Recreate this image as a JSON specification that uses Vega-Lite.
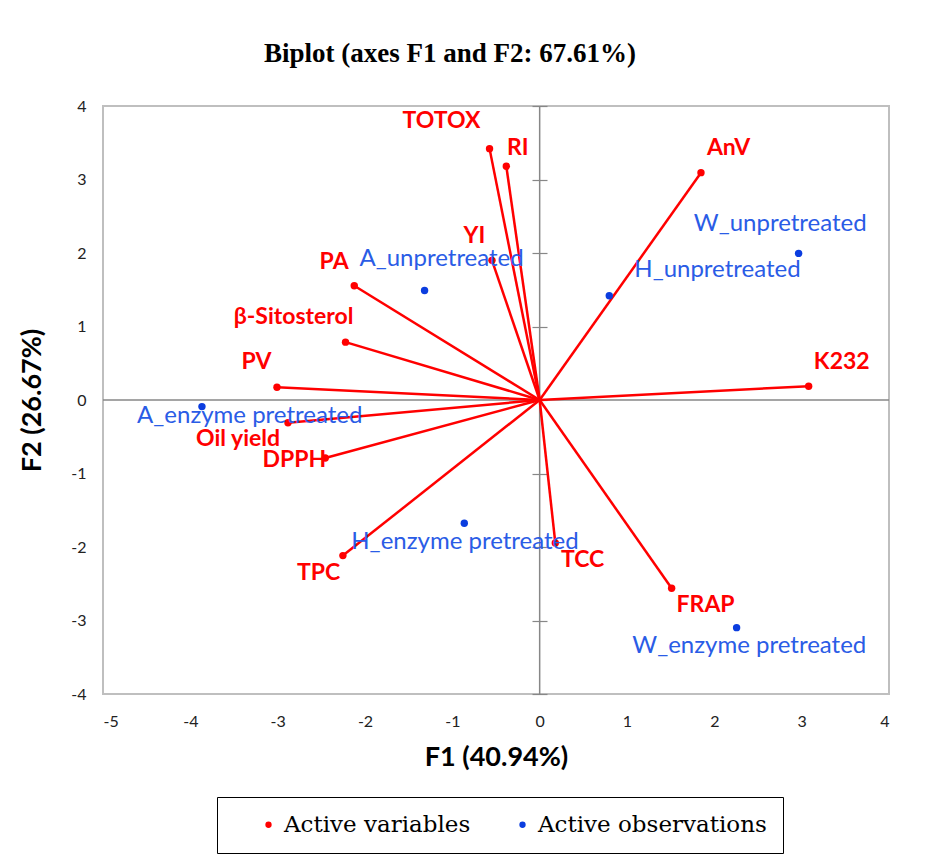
{
  "$schema": "https://vega.github.io/schema/vega-lite/v6.json",
  "width": 786,
  "height": 588,
  "autosize": "none",
  "padding": {"left": 103, "top": 106, "right": 46, "bottom": 169},
  "background": "white",
  "title": {"text": "Biplot (axes F1 and F2: 67.61%)", "font": "Liberation Serif", "fontSize": 27, "fontWeight": "bold", "color": "black", "anchor": "middle", "dx": -46, "offset": 30},
  "datasets": {
    "pts": [
      {"name": "TOTOX", "type": "Active variables", "x": -0.574, "y": 3.42, "lx": -1.124, "ly": 3.80},
      {"name": "RI", "type": "Active variables", "x": -0.382, "y": 3.18, "lx": -0.251, "ly": 3.435},
      {"name": "YI", "type": "Active variables", "x": -0.546, "y": 1.90, "lx": -0.747, "ly": 2.226},
      {"name": "PA", "type": "Active variables", "x": -2.123, "y": 1.555, "lx": -2.354, "ly": 1.883},
      {"name": "β-Sitosterol", "type": "Active variables", "x": -2.223, "y": 0.787, "lx": -2.818, "ly": 1.127},
      {"name": "PV", "type": "Active variables", "x": -3.008, "y": 0.174, "lx": -3.242, "ly": 0.515},
      {"name": "Oil yield", "type": "Active variables", "x": -2.882, "y": -0.31, "lx": -3.453, "ly": -0.535},
      {"name": "DPPH", "type": "Active variables", "x": -2.455, "y": -0.79, "lx": -2.808, "ly": -0.817},
      {"name": "TPC", "type": "Active variables", "x": -2.253, "y": -2.117, "lx": -2.532, "ly": -2.351},
      {"name": "TCC", "type": "Active variables", "x": 0.179, "y": -1.944, "lx": 0.491, "ly": -2.181},
      {"name": "FRAP", "type": "Active variables", "x": 1.511, "y": -2.562, "lx": 1.90, "ly": -2.791},
      {"name": "AnV", "type": "Active variables", "x": 1.847, "y": 3.093, "lx": 2.163, "ly": 3.435},
      {"name": "K232", "type": "Active variables", "x": 3.08, "y": 0.188, "lx": 3.459, "ly": 0.52},
      {"name": "A_unpretreated", "type": "Active observations", "x": -1.318, "y": 1.49, "lx": -1.123, "ly": 1.915},
      {"name": "A_enzyme pretreated", "type": "Active observations", "x": -3.867, "y": -0.09, "lx": -3.32, "ly": -0.215},
      {"name": "H_unpretreated", "type": "Active observations", "x": 0.797, "y": 1.418, "lx": 2.036, "ly": 1.763},
      {"name": "W_unpretreated", "type": "Active observations", "x": 2.965, "y": 1.995, "lx": 2.755, "ly": 2.399},
      {"name": "H_enzyme pretreated", "type": "Active observations", "x": -0.863, "y": -1.677, "lx": -0.855, "ly": -1.936},
      {"name": "W_enzyme pretreated", "type": "Active observations", "x": 2.255, "y": -3.097, "lx": 2.40, "ly": -3.342}
    ]
  },
  "resolve": {"axis": {"y": "independent"}},
  "layer": [
    {
      "data": {"values": [{}]},
      "mark": {"type": "rule", "color": "#878787", "strokeWidth": 1.5},
      "encoding": {
        "y": {
          "datum": 0, "type": "quantitative",
          "scale": {"domain": [-4, 4], "nice": false, "zero": false},
          "axis": {"orient": "left", "offset": -444, "domain": false, "labels": false, "grid": false, "ticks": true, "tickSize": 15, "tickColor": "#878787", "tickWidth": 1.2, "values": [-4, -3, -2, -1, 0, 1, 2, 3, 4], "title": null}
        }
      }
    },
    {
      "layer": [
        {
          "data": {"values": [{}]},
          "mark": {"type": "rule", "color": "#878787", "strokeWidth": 1.5},
          "encoding": {
            "x": {"datum": 0, "type": "quantitative", "scale": {"domain": [-5, 4], "nice": false, "zero": false}}
          }
        },
        {
          "data": {"name": "pts"},
          "transform": [{"filter": "datum.type === 'Active variables'"}],
          "mark": {"type": "rule", "color": "#FF0000", "strokeWidth": 2.5},
          "encoding": {
            "x": {"field": "x", "type": "quantitative"},
            "y": {"field": "y", "type": "quantitative"},
            "x2": {"datum": 0},
            "y2": {"datum": 0}
          }
        },
        {
          "data": {"name": "pts"},
          "mark": {"type": "circle", "opacity": 1, "size": 55},
          "encoding": {
            "x": {"field": "x", "type": "quantitative", "axis": {"orient": "bottom", "values": [-5, -4, -3, -2, -1, 0, 1, 2, 3, 4], "labelExpr": "'' + datum.value", "domain": false, "ticks": false, "grid": false, "labelPadding": 19, "title": "F1 (40.94%)", "titlePadding": 15}},
            "y": {"field": "y", "type": "quantitative", "axis": {"orient": "left", "values": [-4, -3, -2, -1, 0, 1, 2, 3, 4], "labelExpr": "'' + datum.value", "domain": false, "ticks": false, "grid": false, "labelPadding": 17, "title": "F2 (26.67%)", "titlePadding": 24}},
            "color": {
              "field": "type", "type": "nominal",
              "scale": {"domain": ["Active variables", "Active observations"], "range": ["#FF0000", "#0B3DDF"]},
              "legend": {"orient": "none", "legendX": 114, "legendY": 691, "direction": "horizontal", "title": null, "strokeColor": "black", "fillColor": "white", "padding": 16, "labelFont": "DejaVu Serif", "labelFontSize": 23, "labelColor": "black", "labelLimit": 400, "symbolType": "circle", "symbolSize": 40, "symbolStrokeWidth": 0, "columnPadding": 16, "labelOffset": 4, "symbolOffset": 24}
            }
          }
        },
        {
          "data": {"name": "pts"},
          "transform": [{"filter": "datum.type === 'Active variables'"}],
          "mark": {"type": "text", "font": "Lato", "fontSize": 23, "fontWeight": "bold", "color": "#FF0000", "align": "center", "baseline": "middle"},
          "encoding": {
            "x": {"field": "lx", "type": "quantitative"},
            "y": {"field": "ly", "type": "quantitative"},
            "text": {"field": "name"}
          }
        },
        {
          "data": {"name": "pts"},
          "transform": [{"filter": "datum.type === 'Active observations'"}],
          "mark": {"type": "text", "font": "Lato", "fontSize": 24, "color": "#2A5CE6", "align": "center", "baseline": "middle"},
          "encoding": {
            "x": {"field": "lx", "type": "quantitative"},
            "y": {"field": "ly", "type": "quantitative"},
            "text": {"field": "name"}
          }
        }
      ]
    }
  ],
  "config": {
    "axis": {"labelFont": "Lato", "labelFontSize": 16, "labelColor": "#222222", "titleFont": "Lato", "titleFontSize": 27, "titleFontWeight": "bold", "titleColor": "black"},
    "view": {"stroke": "#BFBFBF", "strokeWidth": 2}
  }
}
